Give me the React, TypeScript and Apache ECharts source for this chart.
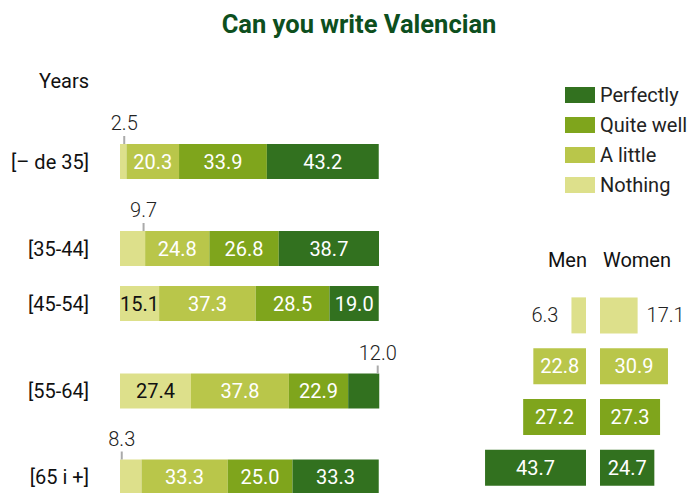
import React, { useEffect, useRef } from 'react';
import * as echarts from 'echarts';

// ---- data ----
const levels = ['Nothing', 'A little', 'Quite well', 'Perfectly'];
const legendOrder = ['Perfectly', 'Quite well', 'A little', 'Nothing'];
const ageGroups = ['[– de 35]', '[35-44]', '[45-54]', '[55-64]', '[65 i +]'];
const nothing = [2.5, 9.7, 15.1, 27.4, 8.3];
const aLittle = [20.3, 24.8, 37.3, 37.8, 33.3];
const quiteWell = [33.9, 26.8, 28.5, 22.9, 25.0];
const perfectly = [43.2, 38.7, 19.0, 12.0, 33.3];
const men = [6.3, 22.8, 27.2, 43.7];
const women = [17.1, 30.9, 27.3, 24.7];

// ---- styles / layout ----
const COLORS: Record<string, string> = {
  Nothing: '#dde08b',
  'A little': '#b9c64a',
  'Quite well': '#7fa51c',
  Perfectly: '#32711f',
};
const FONT = 'Roboto';
const rowTops = [144, 231, 286, 373.5, 461];
const outsideDx = [1, 11, 0, 14, -9];

export default function App() {
  const ref = useRef<HTMLDivElement>(null);
  useEffect(() => {
    if (!ref.current) return;
    const chart = echarts.init(ref.current, undefined, { renderer: 'svg' });
    const byLevel = [nothing, aLittle, quiteWell, perfectly];

    const grid: any[] = [];
    const xAxis: any[] = [];
    const yAxis: any[] = [];
    const series: any[] = [];

    ageGroups.forEach((g, i) => {
      grid.push({ left: 120, width: 259, top: rowTops[i], height: 35 });
      xAxis.push({ type: 'value', gridIndex: i, min: 0, max: 100, show: false });
      yAxis.push({
        type: 'category',
        gridIndex: i,
        data: [g],
        axisLine: { show: false },
        axisTick: { show: false },
        splitLine: { show: false },
        axisLabel: { margin: 31, fontSize: 20, color: '#111', fontFamily: FONT },
      });
      levels.forEach((lvl, j) => {
        const v = byLevel[j][i];
        const small = v < 14;
        series.push({
          type: 'bar',
          name: lvl,
          stack: 'row' + i,
          xAxisIndex: i,
          yAxisIndex: i,
          barWidth: 35,
          clip: false,
          itemStyle: { color: COLORS[lvl] },
          label: small
            ? {
                show: true,
                position: 'top',
                distance: 0,
                offset: [outsideDx[i], 0],
                formatter: `{v|${v.toFixed(1)}}\n{t| }`,
                rich: {
                  v: { fontSize: 20, color: '#222', fontWeight: 300, fontFamily: FONT, lineHeight: 26 },
                  t: { width: 2, height: 8, lineHeight: 8, backgroundColor: '#aaaaaa', fontSize: 1 },
                },
              }
            : {
                show: true,
                position: 'inside',
                fontSize: 20,
                fontFamily: FONT,
                color: j === 0 ? '#111' : '#fff',
                formatter: v.toFixed(1),
              },
          data: [v],
        });
      });
    });

    // Men grid (index 5) and Women grid (index 6)
    grid.push({ right: 102, width: 115.5, top: 290, height: 216 });
    grid.push({ left: 600, width: 88.4, top: 290, height: 216 });
    xAxis.push({ type: 'value', gridIndex: 5, min: 0, max: 50, inverse: true, show: false });
    xAxis.push({ type: 'value', gridIndex: 6, min: 0, max: 40, show: false });
    yAxis.push({ type: 'category', gridIndex: 5, data: levels, inverse: true, show: false });
    yAxis.push({ type: 'category', gridIndex: 6, data: levels, inverse: true, show: false });

    const genderSeries = (name: string, vals: number[], idx: number, side: 'left' | 'right', dist: number) => ({
      type: 'bar',
      name,
      xAxisIndex: idx,
      yAxisIndex: idx,
      barWidth: 36,
      clip: false,
      label: { show: true, fontSize: 20, fontFamily: FONT, formatter: (p: any) => Number(p.value).toFixed(1) },
      data: vals.map((v, j) => ({
        value: v,
        itemStyle: { color: COLORS[levels[j]] },
        label:
          v < 20
            ? { position: side, distance: dist, color: '#222', fontWeight: 300 }
            : { position: 'inside', color: '#fff' },
      })),
    });
    series.push(genderSeries('Men', men, 5, 'left', 13));
    series.push(genderSeries('Women', women, 6, 'right', 9));

    chart.setOption({
      animation: false,
      backgroundColor: '#ffffff',
      textStyle: { fontFamily: FONT },
      legend: {
        data: legendOrder,
        orient: 'vertical',
        left: 565,
        top: 85,
        padding: 0,
        icon: 'rect',
        itemWidth: 30,
        itemHeight: 16,
        itemGap: 10,
        selectedMode: false,
        textStyle: { fontSize: 20, color: '#222', fontFamily: FONT },
      },
      graphic: [
        {
          type: 'text',
          x: 359,
          y: 24,
          style: {
            text: 'Can you write Valencian',
            fontSize: 25.5,
            fontWeight: 'bold',
            fontFamily: FONT,
            fill: '#0d4f1e',
            align: 'center',
            verticalAlign: 'middle',
          },
        },
        {
          type: 'text',
          x: 89,
          y: 81,
          style: { text: 'Years', fontSize: 20, fontFamily: FONT, fill: '#111', align: 'right', verticalAlign: 'middle' },
        },
        {
          type: 'text',
          x: 587,
          y: 260,
          style: { text: 'Men', fontSize: 20, fontFamily: FONT, fill: '#111', align: 'right', verticalAlign: 'middle' },
        },
        {
          type: 'text',
          x: 637,
          y: 260,
          style: { text: 'Women', fontSize: 20, fontFamily: FONT, fill: '#111', align: 'center', verticalAlign: 'middle' },
        },
      ],
      grid,
      xAxis,
      yAxis,
      series,
    });
    return () => chart.dispose();
  }, []);
  return (
    <div
      ref={ref}
      style={{ position: 'absolute', left: 0, top: 0, width: 688, height: 493 }}
    />
  );
}
